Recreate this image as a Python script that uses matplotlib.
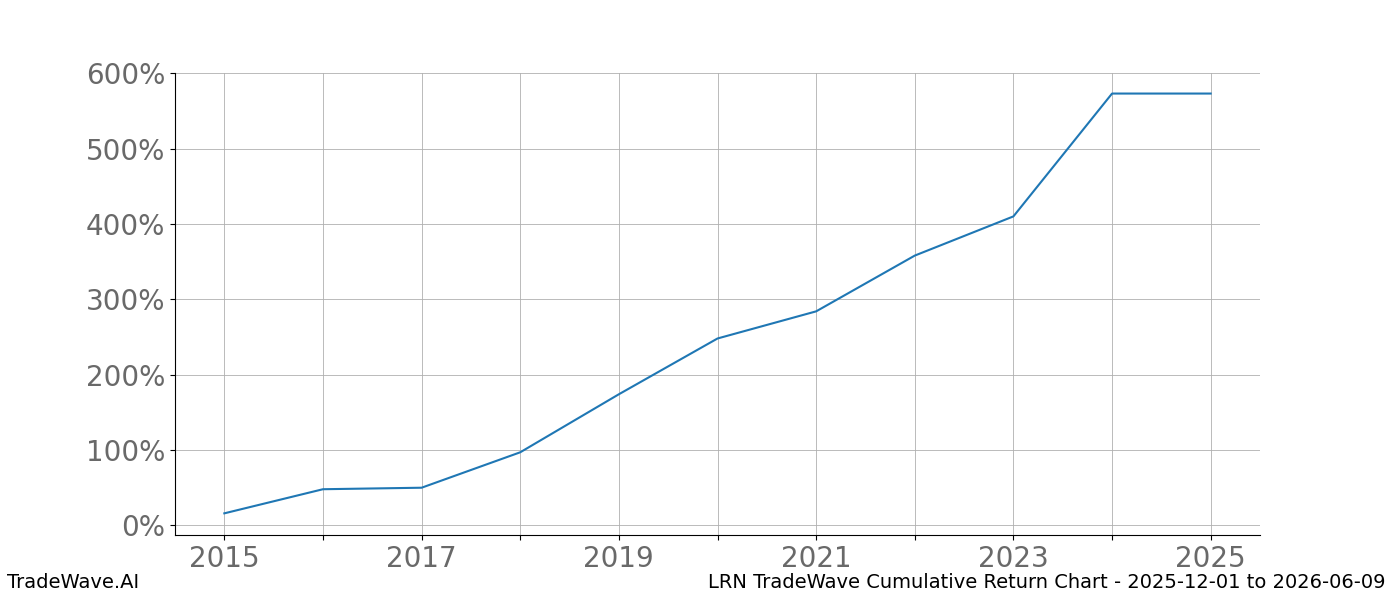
import matplotlib
matplotlib.use("Agg")
import matplotlib.pyplot as plt
from matplotlib.ticker import FuncFormatter

years = [2015, 2016, 2017, 2018, 2019, 2020, 2021, 2022, 2023, 2024, 2025]
returns = [16, 48, 50, 97, 174, 248, 284, 358, 410, 573, 573]
xticks = [2015, 2017, 2019, 2021, 2023, 2025]
yticks = [0, 100, 200, 300, 400, 500, 600]

fig = plt.figure(figsize=(14, 6), dpi=100)
ax = fig.add_axes([0.125, 0.108, 0.775, 0.77])
ax.plot(years, returns, color="#1f77b4", linewidth=1.5)
ax.set_xlim(2014.5, 2025.5)
ax.set_ylim(-13, 600)
ax.set_xticks(years)
ax.set_xticklabels([str(y) if y in xticks else "" for y in years])
ax.set_yticks(yticks)
ax.yaxis.set_major_formatter(FuncFormatter(lambda v, p: f"{int(v)}%"))
ax.tick_params(labelsize=20, labelcolor="dimgray")
ax.grid(True, color="#b0b0b0", linewidth=0.6)
ax.spines["top"].set_visible(False)
ax.spines["right"].set_visible(False)
fig.text(0.005, 0.02, "TradeWave.AI", fontsize=14)
fig.text(0.99, 0.02, "LRN TradeWave Cumulative Return Chart - 2025-12-01 to 2026-06-09", fontsize=14, ha="right")
fig.savefig("out.png")
